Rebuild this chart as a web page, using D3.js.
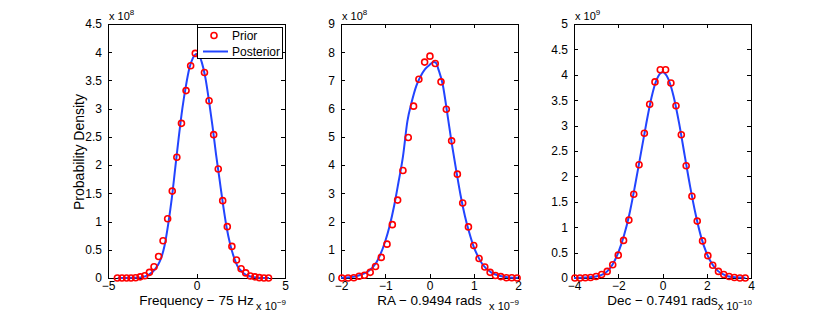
<!DOCTYPE html>
<html>
<head>
<meta charset="utf-8">
<script src="https://cdn.jsdelivr.net/npm/d3@7"></script>
<style>
  body { margin: 0; background: #fff; }
  svg text { font-family: "Liberation Sans", Arial, Helvetica, sans-serif; fill: #000; }
</style>
</head>
<body>
<div id="chart"></div>
<script>
// ---- data (y values in units of the axis multiplier) ----

// frequency panel (x in 1e-9 Hz, y in 1e8)
const freqPriorX = [-4.47, -4.21, -3.95, -3.70, -3.44, -3.18, -2.92, -2.66, -2.40, -2.14, -1.89, -1.63, -1.37, -1.11,
  -0.85, -0.59, -0.33, -0.07, 0.19, 0.45, 0.71, 0.97, 1.23, 1.48, 1.74, 2.00, 2.26, 2.52, 2.78, 3.04, 3.30, 3.55, 3.81, 4.07];
const freqPriorY = [0, 0, 0, 0, 0.005, 0.02, 0.04, 0.10, 0.20, 0.38, 0.66, 1.05, 1.54, 2.14,
  2.74, 3.32, 3.76, 3.98, 3.95, 3.64, 3.14, 2.54, 1.93, 1.37, 0.91, 0.56, 0.32, 0.165, 0.09, 0.035, 0.02, 0.006, 0, 0];
const freqPostX = [-4.45, -3.5, -3.0, -2.7, -2.5, -2.2, -2.0, -1.8, -1.6, -1.4, -1.2, -1.0, -0.8, -0.6, -0.4, -0.2, 0.0, 0.1,
  0.3, 0.5, 0.7, 0.9, 1.1, 1.3, 1.5, 1.7, 1.9, 2.1, 2.3, 2.6, 3.0, 3.5, 4.1];
const freqPostY = [0, 0.003, 0.02, 0.06, 0.10, 0.22, 0.35, 0.58, 0.95, 1.40, 1.95, 2.50, 3.00, 3.40, 3.72, 3.90, 3.97, 3.96,
  3.82, 3.55, 3.15, 2.70, 2.20, 1.75, 1.30, 0.90, 0.60, 0.38, 0.22, 0.10, 0.03, 0.005, 0];

// RA panel (x in 1e-9 rads, y in 1e8)
const raPriorX = [-1.98, -1.84, -1.71, -1.59, -1.47, -1.34, -1.22, -1.09, -0.96, -0.84, -0.72, -0.60,
  -0.48, -0.36, -0.24, -0.11, 0.01, 0.13, 0.26, 0.38, 0.50,
  0.63, 0.75, 0.88, 1.00, 1.12, 1.25, 1.37, 1.49, 1.61, 1.74, 1.86, 1.98];
const raPriorY = [0, 0, 0.01, 0.06, 0.10, 0.20, 0.41, 0.73, 1.20, 1.89, 2.76, 3.81,
  4.98, 6.09, 7.04, 7.65, 7.86, 7.60, 6.95, 5.98, 4.86,
  3.68, 2.66, 1.81, 1.15, 0.69, 0.39, 0.20, 0.09, 0.05, 0.01, 0.01, 0];
const raPostX = [-2.0, -1.8, -1.6, -1.4, -1.2, -1.0, -0.9, -0.8, -0.7, -0.6, -0.5, -0.4, -0.3, -0.2, -0.1, 0.0, 0.1, 0.15,
  0.2, 0.3, 0.4, 0.5, 0.6, 0.7, 0.8, 0.9, 1.0, 1.1, 1.2, 1.4, 1.6, 1.8, 2.0];
const raPostY = [0.01, 0.03, 0.09, 0.22, 0.55, 1.30, 1.85, 2.55, 3.40, 4.30, 5.55, 6.25, 6.80, 7.15, 7.40, 7.55, 7.65, 7.62,
  7.40, 6.85, 5.85, 4.80, 3.85, 2.95, 2.20, 1.60, 1.10, 0.75, 0.48, 0.19, 0.07, 0.02, 0.005];

// Dec panel (x in 1e-10 rads, y in 1e9)
const decPriorX = [-3.96, -3.73, -3.49, -3.25, -3.00, -2.75, -2.50, -2.25, -2.00, -1.76, -1.52, -1.30, -1.06,
  -0.82, -0.58, -0.34, -0.10, 0.14, 0.38, 0.61, 0.85,
  1.07, 1.33, 1.57, 1.81, 2.05, 2.27, 2.53, 2.77, 3.01, 3.25, 3.50, 3.74];
const decPriorY = [0, 0, 0.005, 0.01, 0.03, 0.07, 0.13, 0.26, 0.45, 0.74, 1.14, 1.65, 2.23,
  2.85, 3.42, 3.86, 4.10, 4.10, 3.84, 3.39, 2.82,
  2.21, 1.61, 1.12, 0.73, 0.44, 0.25, 0.13, 0.07, 0.03, 0.01, 0, 0];
const decPostX = [-4.0, -3.5, -3.0, -2.75, -2.5, -2.25, -2.0, -1.75, -1.5, -1.25, -1.0, -0.75, -0.5, -0.25, 0.0,
  0.25, 0.5, 0.75, 1.0, 1.25, 1.5, 1.75, 2.0, 2.25, 2.5, 2.75, 3.0, 3.5, 3.75];
const decPostY = [0.002, 0.008, 0.03, 0.06, 0.13, 0.27, 0.50, 0.82, 1.25, 1.80, 2.40, 3.00, 3.55, 3.92, 4.05,
  3.93, 3.58, 3.05, 2.42, 1.80, 1.25, 0.80, 0.48, 0.27, 0.14, 0.07, 0.03, 0.008, 0.003];

// axes
const freqXTicks = [-5, 0, 5];
const freqYTicks = [0, 0.5, 1, 1.5, 2, 2.5, 3, 3.5, 4, 4.5];
const raXTicks = [-2, -1, 0, 1, 2];
const raYTicks = [0, 1, 2, 3, 4, 5, 6, 7, 8, 9];
const decXTicks = [-4, -2, 0, 2, 4];
const decYTicks = [0, 0.5, 1, 1.5, 2, 2.5, 3, 3.5, 4, 4.5, 5];

const xLabels = ['Frequency \u2212 75 Hz', 'RA \u2212 0.9494 rads', 'Dec \u2212 0.7491 rads'];
const xExponents = ['\u22129', '\u22129', '\u221210'];
const yExponents = ['8', '8', '9'];
const legendLabels = ['Prior', 'Posterior'];

// ---- layout ----
const width = 830, height = 313;
const plotTop = 24, plotBottom = 278;
const panelLeft = [108, 341, 574];
const panelWidth = 177;
const red = '#ff0000', blue = '#2244ff';

const panels = [
  { xDomain: [-5, 5], yDomain: [0, 4.5], xTicks: freqXTicks, yTicks: freqYTicks,
    priorX: freqPriorX, priorY: freqPriorY, postX: freqPostX, postY: freqPostY },
  { xDomain: [-2, 2], yDomain: [0, 9], xTicks: raXTicks, yTicks: raYTicks,
    priorX: raPriorX, priorY: raPriorY, postX: raPostX, postY: raPostY },
  { xDomain: [-4, 4], yDomain: [0, 5], xTicks: decXTicks, yTicks: decYTicks,
    priorX: decPriorX, priorY: decPriorY, postX: decPostX, postY: decPostY }
];

const svg = d3.select('#chart').append('svg')
  .attr('width', width)
  .attr('height', height);

const fmt = d3.format('');
const tickLen = 4;

panels.forEach((p, i) => {
  const x0 = panelLeft[i], x1 = x0 + panelWidth;
  const x = d3.scaleLinear().domain(p.xDomain).range([x0, x1]);
  const y = d3.scaleLinear().domain(p.yDomain).range([plotBottom, plotTop]);
  const g = svg.append('g').attr('class', 'panel');

  // frame
  g.append('rect')
    .attr('x', x0).attr('y', plotTop)
    .attr('width', x1 - x0).attr('height', plotBottom - plotTop)
    .attr('fill', 'none').attr('stroke', '#000').attr('stroke-width', 1)
    .attr('shape-rendering', 'crispEdges');

  // axes: ticks pointing inward, mirrored on opposite side
  const bottomAxis = g.append('g').attr('transform', `translate(0,${plotBottom})`)
    .call(d3.axisBottom(x).tickValues(p.xTicks).tickSizeInner(-tickLen).tickSizeOuter(0).tickPadding(3).tickFormat(fmt));
  const topAxis = g.append('g').attr('transform', `translate(0,${plotTop})`)
    .call(d3.axisTop(x).tickValues(p.xTicks).tickSizeInner(-tickLen).tickSizeOuter(0).tickFormat(''));
  const leftAxis = g.append('g').attr('transform', `translate(${x0},0)`)
    .call(d3.axisLeft(y).tickValues(p.yTicks).tickSizeInner(-tickLen).tickSizeOuter(0).tickPadding(6).tickFormat(fmt));
  const rightAxis = g.append('g').attr('transform', `translate(${x1},0)`)
    .call(d3.axisRight(y).tickValues(p.yTicks).tickSizeInner(-tickLen).tickSizeOuter(0).tickFormat(''));
  [bottomAxis, topAxis, leftAxis, rightAxis].forEach(a => {
    a.select('.domain').remove();
    a.selectAll('line').attr('stroke', '#000').attr('shape-rendering', 'crispEdges');
    a.selectAll('text').attr('font-size', 12).attr('font-family', '"Liberation Sans", Arial, sans-serif').attr('fill', '#000');
  });

  // posterior line
  const pts = p.postX.map((v, k) => [v, p.postY[k]]);
  g.append('path')
    .datum(pts)
    .attr('fill', 'none')
    .attr('stroke', blue)
    .attr('stroke-width', 2)
    .attr('d', d3.line().x(d => x(d[0])).y(d => y(d[1])).curve(d3.curveMonotoneX));

  // prior markers
  g.selectAll('circle.prior')
    .data(p.priorX.map((v, k) => [v, p.priorY[k]]))
    .join('circle')
    .attr('class', 'prior')
    .attr('cx', d => x(d[0]))
    .attr('cy', d => y(d[1]))
    .attr('r', 3)
    .attr('fill', 'none')
    .attr('stroke', red)
    .attr('stroke-width', 1.6);

  // x label
  g.append('text')
    .attr('x', (x0 + x1) / 2).attr('y', 305)
    .attr('text-anchor', 'middle')
    .attr('font-size', 13.5)
    .text(xLabels[i]);

  // x exponent
  const xe = g.append('text')
    .attr('x', x1 + 1).attr('y', 310)
    .attr('text-anchor', 'end')
    .attr('font-size', 11);
  xe.append('tspan').text('x 10');
  xe.append('tspan').attr('dy', -5).attr('font-size', 8).text(xExponents[i]);

  // y exponent
  const ye = g.append('text')
    .attr('x', x0 + 1).attr('y', 20)
    .attr('font-size', 11);
  ye.append('tspan').text('x 10');
  ye.append('tspan').attr('dy', -5).attr('font-size', 8).text(yExponents[i]);
});

// y axis label
svg.append('text')
  .attr('transform', `translate(84,${(plotTop + plotBottom) / 2 + 1}) rotate(-90)`)
  .attr('text-anchor', 'middle')
  .attr('font-size', 14)
  .text('Probability Density');

// legend in first panel
const legend = svg.append('g').attr('class', 'legend');
legend.append('rect')
  .attr('x', 197).attr('y', 27).attr('width', 85).attr('height', 31)
  .attr('fill', '#fff').attr('stroke', '#000').attr('stroke-width', 1)
  .attr('shape-rendering', 'crispEdges');
legend.append('circle')
  .attr('cx', 214).attr('cy', 35.5).attr('r', 3)
  .attr('fill', 'none').attr('stroke', red).attr('stroke-width', 1.6);
legend.append('line')
  .attr('x1', 203).attr('x2', 228).attr('y1', 51.5).attr('y2', 51.5)
  .attr('stroke', blue).attr('stroke-width', 2);
legend.selectAll('text.lbl')
  .data(legendLabels)
  .join('text')
  .attr('class', 'lbl')
  .attr('x', 232)
  .attr('y', (d, k) => 40 + k * 16)
  .attr('font-size', 12)
  .text(d => d);
</script>
</body>
</html>
